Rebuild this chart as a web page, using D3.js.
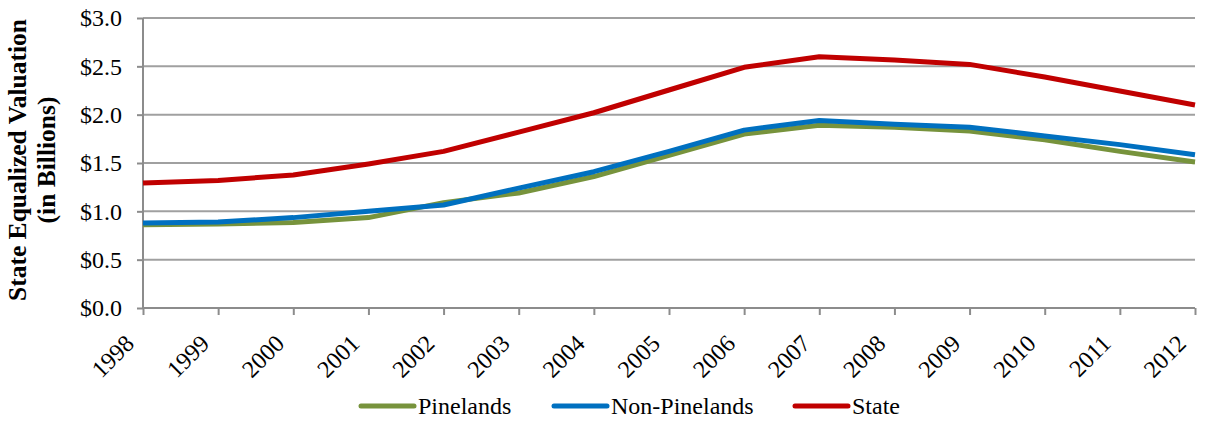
<!DOCTYPE html>
<html>
<head>
<meta charset="utf-8">
<script src="https://cdn.jsdelivr.net/npm/d3@7"></script>
<style>
body { margin: 0; background: #fff; }
text { font-family: "Liberation Serif", "Times New Roman", serif; fill: #000; }
.grid line { stroke: #a0a0a0; stroke-width: 2; }
.axis path, .axis line { stroke: #8c8c8c; stroke-width: 2; }
.series { fill: none; stroke-width: 5; stroke-linejoin: round; }
</style>
</head>
<body>
<div id="chart"></div>
<script>
// years and values ($ billions)
var years = [1998, 1999, 2000, 2001, 2002, 2003, 2004, 2005, 2006, 2007, 2008, 2009, 2010, 2011, 2012];
var pinelands = [0.86, 0.87, 0.885, 0.935, 1.09, 1.19, 1.36, 1.58, 1.80, 1.89, 1.87, 1.83, 1.74, 1.62, 1.51];
var nonPinelands = [0.88, 0.89, 0.935, 1.0, 1.066, 1.24, 1.41, 1.62, 1.84, 1.94, 1.90, 1.87, 1.78, 1.69, 1.585];
var state = [1.293, 1.32, 1.376, 1.49, 1.62, 1.82, 2.02, 2.255, 2.49, 2.60, 2.565, 2.52, 2.39, 2.245, 2.10];
var yTicks = [0, 0.5, 1.0, 1.5, 2.0, 2.5, 3.0];
var seriesNames = ["Pinelands", "Non-Pinelands", "State"];
var seriesColors = ["#77933C", "#0070C0", "#C00000"];

var W = 1206, H = 422;
var mLeft = 143, mRight = 1195, mTop = 18, mBottom = 308;

var svg = d3.select("#chart").append("svg")
	.attr("width", W)
	.attr("height", H);

var x = d3.scalePoint().domain(years).range([mLeft, mRight]);
var y = d3.scaleLinear().domain([0, 3]).range([mBottom, mTop]);

// gridlines
svg.append("g")
	.attr("class", "grid")
	.selectAll("line")
	.data(yTicks.slice(1))
	.enter().append("line")
	.attr("x1", mLeft).attr("x2", mRight)
	.attr("y1", function(d) { return y(d); })
	.attr("y2", function(d) { return y(d); });

// y axis
var yAxis = svg.append("g")
	.attr("class", "axis")
	.attr("transform", "translate(" + mLeft + ",0)")
	.call(d3.axisLeft(y).tickValues(yTicks).tickSize(6).tickPadding(15)
		.tickFormat(function(d) { return "$" + d3.format(".1f")(d); }));
yAxis.select(".domain").attr("d", "M0," + mTop + "V" + mBottom);
yAxis.selectAll("text").style("font-size", "24px");

// x axis
var xAxis = svg.append("g")
	.attr("class", "axis")
	.attr("transform", "translate(0," + mBottom + ")")
	.call(d3.axisBottom(x).tickSize(7).tickSizeOuter(0));
xAxis.select(".domain").attr("d", "M" + mLeft + ",0H" + mRight);
xAxis.selectAll("text")
	.style("font-size", "24px")
	.attr("text-anchor", "end")
	.attr("dy", null)
	.attr("x", 0)
	.attr("y", 0)
	.attr("transform", "translate(-8,37) rotate(-45)");

// y axis title
var yMid = 160;
svg.append("text")
	.attr("transform", "translate(26," + yMid + ") rotate(-90)")
	.attr("text-anchor", "middle")
	.style("font-size", "25.5px")
	.style("font-weight", "bold")
	.text("State Equalized Valuation");
svg.append("text")
	.attr("transform", "translate(55," + yMid + ") rotate(-90)")
	.attr("text-anchor", "middle")
	.style("font-size", "25.5px")
	.style("font-weight", "bold")
	.text("(in Billions)");

// lines
var line = d3.line()
	.x(function(d, i) { return x(years[i]); })
	.y(function(d) { return y(d); });

[pinelands, nonPinelands, state].forEach(function(s, i) {
	svg.append("path")
		.datum(s)
		.attr("class", "series")
		.attr("stroke", seriesColors[i])
		.attr("d", line);
});

// legend
var legendX = [361, 554, 795];
var legend = svg.append("g");
seriesNames.forEach(function(name, i) {
	legend.append("line")
		.attr("x1", legendX[i]).attr("x2", legendX[i] + 53)
		.attr("y1", 406).attr("y2", 406)
		.attr("stroke", seriesColors[i])
		.attr("stroke-width", 5)
		.attr("stroke-linecap", "round");
	legend.append("text")
		.attr("x", legendX[i] + 57)
		.attr("y", 414)
		.style("font-size", "24px")
		.text(name);
});
</script>
</body>
</html>
